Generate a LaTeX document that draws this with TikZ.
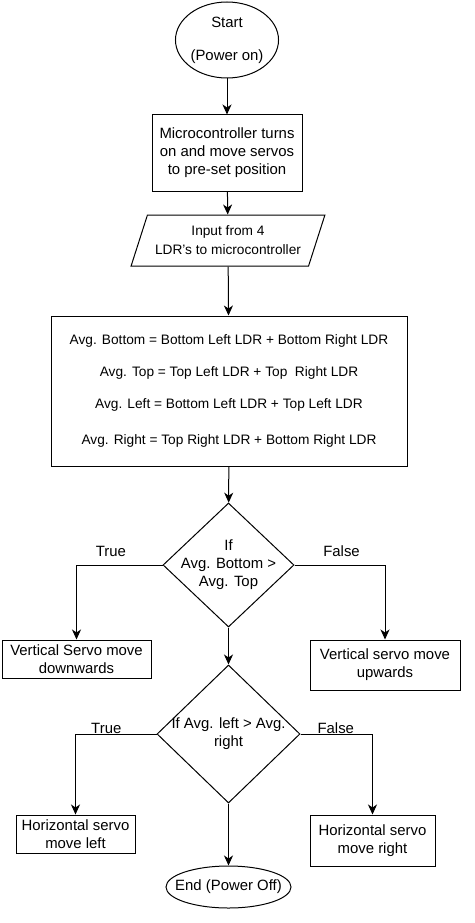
\documentclass[tikz,border=0pt]{standalone}
\usepackage{fontspec}
\setmainfont{Liberation Sans}
\usepackage{tikz}
\usetikzlibrary{arrows.meta, shapes.geometric}

\begin{document}
\begin{tikzpicture}[x=1pt, y=-1pt, >={Stealth[length=10pt, width=9pt, inset=3pt]},
      line width=1pt, font=\fontsize{14.9}{18}\selectfont,
      term/.style={draw, ellipse, inner sep=0pt, align=center},
      proc/.style={draw, rectangle, inner sep=0pt, align=center},
      io/.style={draw, trapezium, trapezium left angle=63, trapezium right angle=117,
        trapezium stretches=true, minimum width=194pt, minimum height=51pt, inner sep=0pt,
        align=center, font=\fontsize{13.7}{18}\selectfont},
      dec/.style={draw, diamond, inner sep=0pt},
      dtxt/.style={align=center, inner sep=0pt},
      lbl/.style={inner sep=0pt}]
    \useasboundingbox (0,0) rectangle (474,923);
    % main column
    \node[term, minimum width=101pt, minimum height=76pt] (start) at (227,40) {Start\\[15pt](Power on)};
    \node[proc, minimum width=150pt, minimum height=76pt] (mcu) at (227,153)
      {Microcontroller turns\\ on and move servos\\ to pre-set position};
    \node[io] (inp) at (228,240.5) {Input from 4\\[1pt] LDR's to microcontroller};
    \node[proc, minimum width=356pt, minimum height=150pt, font=\fontsize{13.7}{16.5}\selectfont] (avg) at (229,391)
      {Avg. Bottom = Bottom Left LDR + Bottom Right LDR\\[15.5pt]
       Avg. Top = Top Left LDR + Top \ Right LDR\\[15.5pt]
       Avg. Left = Bottom Left LDR + Top Left LDR\\[19.5pt]
       Avg. Right = Top Right LDR + Bottom Right LDR};
    \node[dec, minimum width=131pt, minimum height=124pt,
          label={[dtxt]center:If\\Avg. Bottom >\\Avg. Top}] (d1) at (228.5,565) {};
    \node[dec, minimum width=143pt, minimum height=138pt,
          label={[dtxt]center:If Avg. left > Avg.\\right}] (d2) at (228.5,734) {};
    \node[term, minimum width=125pt, minimum height=42pt] (stop) at (228.5,887)
      {\makebox[0pt]{End (Power Off)}};
    \foreach \a/\b in {start/mcu, mcu/inp, inp/avg, avg/d1, d1/d2, d2/stop} \draw[->] (\a) -- (\b);
    % side boxes
    \node[proc, minimum width=149pt, minimum height=38pt] (vdown) at (76.5,659) {Vertical Servo move\\ downwards};
    \node[proc, minimum width=150pt, minimum height=50pt] (vup) at (385,665) {Vertical servo move\\ upwards};
    \node[proc, minimum width=119pt, minimum height=38pt] (hleft) at (75.5,834) {Horizontal servo\\ move left};
    \node[proc, minimum width=125pt, minimum height=51pt] (hright) at (372.5,840.5) {Horizontal servo\\ move right};
    \draw[->] (d1.west) -| (vdown.north) node[lbl, pos=0.3, above=7.5pt] {True};
    \draw[->] (d1.east) -| (vup.north) node[lbl, pos=0.26, above=7.5pt] {False};
    \draw[->] (d2.west) -| (hleft.north) node[lbl, pos=0.31, above=0pt] {True};
    \draw[->] (d2.east) -| (hright.north) node[lbl, pos=0.245, above=0pt] {False};
  \end{tikzpicture}
\end{document}
